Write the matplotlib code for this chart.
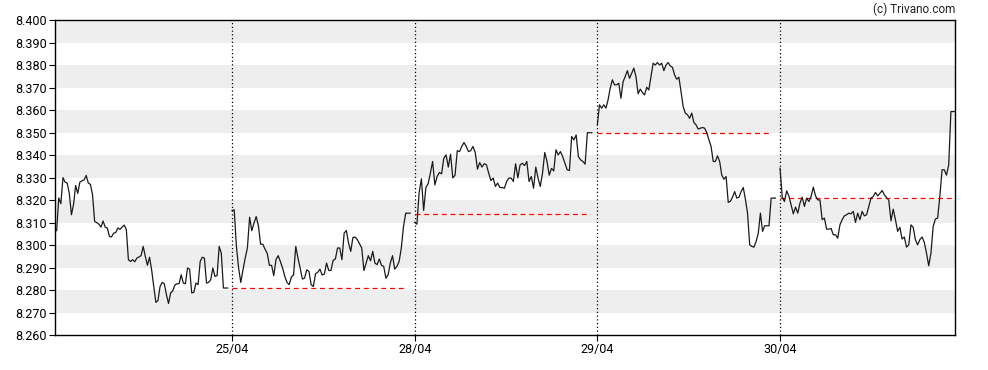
import numpy as np
import matplotlib
matplotlib.use("Agg")
import matplotlib.pyplot as plt

plt.rcParams['font.family'] = ['Roboto', 'DejaVu Sans']

# day labels at the session boundaries
day_labels = ['25/04', '28/04', '29/04', '30/04']

# intraday prices per session
day1 = [8.3064, 8.3210, 8.3184, 8.3300, 8.3280, 8.3276, 8.3230, 8.3135, 8.3180, 8.3265,
        8.3230, 8.3280, 8.3286, 8.3290, 8.3310, 8.3276, 8.3270, 8.3224, 8.3105, 8.3100,
        8.3093, 8.3080, 8.3107, 8.3080, 8.3076, 8.3039, 8.3036, 8.3053, 8.3056, 8.3076,
        8.3070, 8.3080, 8.3089, 8.3070, 8.2935, 8.2927, 8.2935, 8.2926, 8.2942, 8.2947,
        8.2953, 8.2994, 8.2950, 8.2910, 8.2946, 8.2890, 8.2816, 8.2745, 8.2753, 8.2816,
        8.2834, 8.2828, 8.2780, 8.2740, 8.2787, 8.2796, 8.2822, 8.2828, 8.2828, 8.2868,
        8.2831, 8.2828, 8.2898, 8.2893, 8.2787, 8.2790, 8.2831, 8.2824, 8.2927, 8.2946,
        8.2942, 8.2831, 8.2834, 8.2846, 8.2898, 8.2861, 8.2864, 8.2994, 8.2964, 8.2809,
        8.2809, 8.2809]
day2 = [8.3154, 8.3157, 8.2994, 8.2898, 8.2834, 8.2890, 8.2942, 8.2987, 8.3124, 8.3064,
        8.3098, 8.3127, 8.3086, 8.3004, 8.3004, 8.2982, 8.2964, 8.2910, 8.2910, 8.2864,
        8.2935, 8.2953, 8.2927, 8.2898, 8.2861, 8.2834, 8.2824, 8.2858, 8.2867, 8.2994,
        8.2942, 8.2898, 8.2849, 8.2853, 8.2890, 8.2883, 8.2824, 8.2816, 8.2873, 8.2879,
        8.2893, 8.2867, 8.2871, 8.2920, 8.2887, 8.2887, 8.2932, 8.2938, 8.2987, 8.2987,
        8.2935, 8.3053, 8.3065, 8.3009, 8.2972, 8.3034, 8.3036, 8.3024, 8.3006, 8.2987,
        8.2887, 8.2920, 8.2953, 8.2930, 8.2972, 8.2920, 8.2913, 8.2938, 8.2910, 8.2905,
        8.2853, 8.2868, 8.2920, 8.2953, 8.2893, 8.2905, 8.2927, 8.2987, 8.3083, 8.3142,
        8.3142, 8.3142]
day3 = [8.3101, 8.3093, 8.3234, 8.3295, 8.3154, 8.3256, 8.3273, 8.3320, 8.3372, 8.3268,
        8.3305, 8.3323, 8.3317, 8.3387, 8.3401, 8.3347, 8.3404, 8.3299, 8.3311, 8.3420,
        8.3416, 8.3439, 8.3456, 8.3439, 8.3416, 8.3420, 8.3439, 8.3412, 8.3338, 8.3367,
        8.3347, 8.3362, 8.3357, 8.3320, 8.3287, 8.3298, 8.3261, 8.3276, 8.3256, 8.3256,
        8.3253, 8.3283, 8.3298, 8.3298, 8.3283, 8.3362, 8.3299, 8.3357, 8.3364, 8.3354,
        8.3372, 8.3283, 8.3305, 8.3253, 8.3347, 8.3298, 8.3261, 8.3320, 8.3412, 8.3372,
        8.3311, 8.3341, 8.3330, 8.3424, 8.3401, 8.3416, 8.3393, 8.3364, 8.3335, 8.3332,
        8.3483, 8.3468, 8.3490, 8.3393, 8.3379, 8.3372, 8.3360, 8.3500, 8.3500, 8.3500]
day4 = [8.3535, 8.3624, 8.3609, 8.3624, 8.3609, 8.3646, 8.3698, 8.3735, 8.3713, 8.3713,
        8.3720, 8.3653, 8.3727, 8.3750, 8.3776, 8.3742, 8.3764, 8.3787, 8.3750, 8.3673,
        8.3694, 8.3679, 8.3668, 8.3702, 8.3690, 8.3750, 8.3809, 8.3801, 8.3812, 8.3801,
        8.3809, 8.3776, 8.3801, 8.3812, 8.3797, 8.3791, 8.3757, 8.3738, 8.3747, 8.3683,
        8.3616, 8.3587, 8.3580, 8.3564, 8.3587, 8.3545, 8.3535, 8.3516, 8.3520, 8.3523,
        8.3520, 8.3500, 8.3468, 8.3439, 8.3372, 8.3372, 8.3397, 8.3372, 8.3311, 8.3293,
        8.3305, 8.3190, 8.3195, 8.3213, 8.3238, 8.3209, 8.3213, 8.3238, 8.3256, 8.3204,
        8.3142, 8.3001, 8.2994, 8.2991, 8.3016, 8.3053, 8.3142, 8.3061, 8.3086, 8.3086,
        8.3086, 8.3209, 8.3209, 8.3209]
day5 = [8.3342, 8.3213, 8.3194, 8.3241, 8.3219, 8.3179, 8.3139, 8.3169, 8.3142, 8.3187,
        8.3213, 8.3172, 8.3209, 8.3194, 8.3216, 8.3258, 8.3219, 8.3201, 8.3201, 8.3113,
        8.3120, 8.3071, 8.3071, 8.3074, 8.3046, 8.3046, 8.3031, 8.3090, 8.3113, 8.3130,
        8.3135, 8.3142, 8.3139, 8.3150, 8.3101, 8.3142, 8.3113, 8.3150, 8.3130, 8.3135,
        8.3172, 8.3209, 8.3216, 8.3234, 8.3219, 8.3230, 8.3243, 8.3224, 8.3212, 8.3199,
        8.3108, 8.3160, 8.3113, 8.3061, 8.3079, 8.3027, 8.3036, 8.2991, 8.3001, 8.3090,
        8.3079, 8.3024, 8.3001, 8.3024, 8.3036, 8.3012, 8.2964, 8.2908, 8.2964, 8.3083,
        8.3116, 8.3120, 8.3216, 8.3335, 8.3335, 8.3311, 8.3357, 8.3594, 8.3594, 8.3594]

sessions = [day1, day2, day3, day4, day5]
# session spans in day units (0 = start of 24/04 session window)
session_start = [0.04, 1.0, 2.0, 3.0, 4.0]
session_end = [0.976, 1.975, 2.97, 3.975, 4.96]

# previous close reference per session (from 25/04 on)
prev_close = [8.281, 8.314, 8.350, 8.321]
prev_close_end = [1.955, 2.95, 3.95, 4.96]

fig = plt.figure(figsize=(9.88, 3.70), dpi=100)
ax = fig.add_axes([55 / 988, 35 / 370, 900 / 988, 314.7 / 370])

ymin, ymax = 8.26, 8.40
for lo in np.arange(8.27, 8.40, 0.02):
    ax.axhspan(lo, lo + 0.01, color='#eeeeee', lw=0, zorder=0)

for d in range(1, 5):
    ax.axvline(d, color='black', lw=0.9, ls=(0, (1, 2)), zorder=1)

for prices, s, e in zip(sessions, session_start, session_end):
    xs = np.linspace(s, e, len(prices))
    ax.plot(xs, prices, color='#1a1a1a', lw=0.9, zorder=3)

for i, (pc, e) in enumerate(zip(prev_close, prev_close_end)):
    ax.plot([i + 1, e], [pc, pc], color='#ff0000', lw=0.9, ls=(0, (4, 3)), zorder=2)

ax.set_xlim(0.031, 4.958)
ax.set_ylim(ymin, ymax)
ax.set_yticks(np.round(np.arange(8.26, 8.4001, 0.01), 3))
ax.set_yticklabels([f"{v:.3f}" for v in np.arange(8.26, 8.4001, 0.01)])
ax.set_xticks([1, 2, 3, 4])
ax.set_xticklabels(day_labels)
ax.tick_params(axis='both', labelsize=9, length=4, width=0.8, color='black', pad=2)

for sp in ax.spines.values():
    sp.set_linewidth(1.0)
    sp.set_color('black')

fig.text(955 / 988, 1 - 9 / 370, "(c) Trivano.com", ha='right', va='center', fontsize=8.5, color='#222222')

fig.savefig("out.png", dpi=100)
